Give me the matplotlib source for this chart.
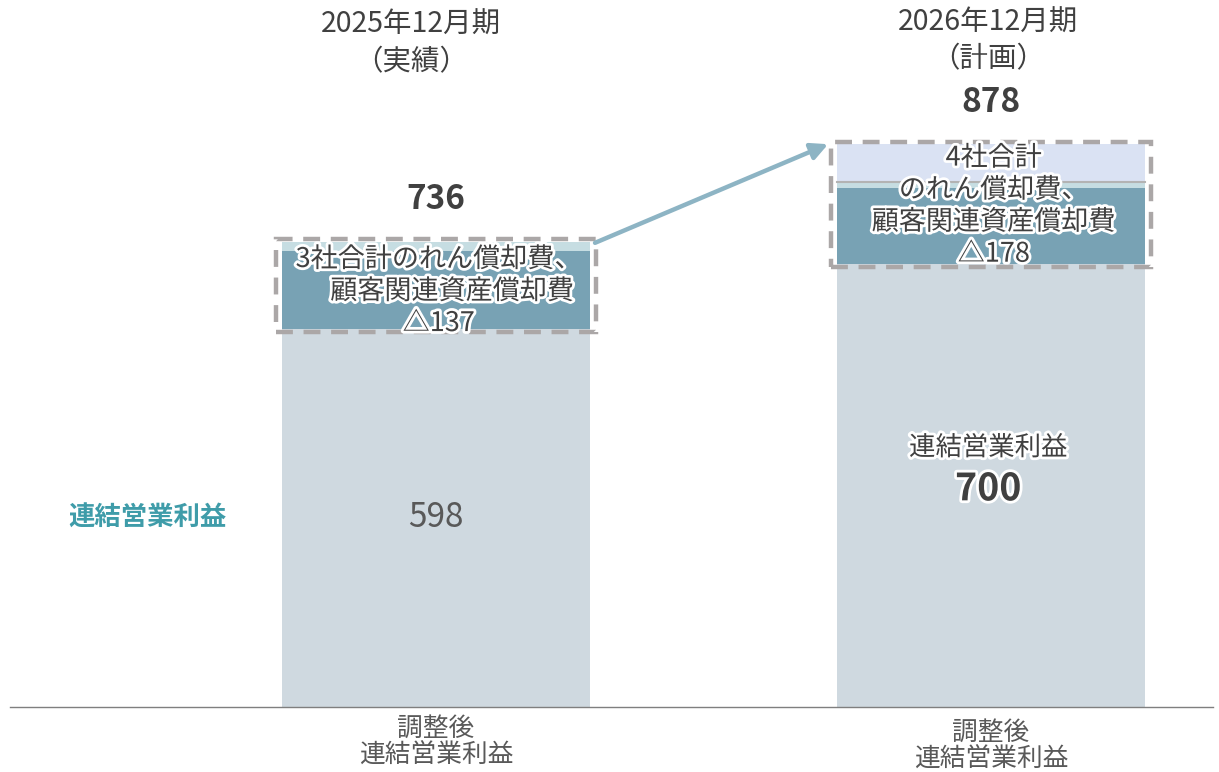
import matplotlib
matplotlib.use("Agg")
import matplotlib.pyplot as plt
import matplotlib.patheffects as pe
from matplotlib.patches import Rectangle

plt.rcParams['font.family'] = ['Noto Sans CJK JP', 'DejaVu Sans']

# ---- data ----
categories = ["調整後\n連結営業利益", "調整後\n連結営業利益"]
headers = ["2025年12月期\n（実績）", "2026年12月期\n（計画）"]
base_values = [598, 700]                 # 連結営業利益
amort_dark = [123, 121]                  # 償却費 (dark segment)
amort_light = [15, 9]                    # 償却費 (light strip)
amort_top = [0, 60]                      # 償却費 (top lavender segment, plan)
totals = [736, 878]
amort_totals = [137, 178]
box_labels = ["3社合計のれん償却費、\n　顧客関連資産償却費\n△{}",
              "4社合計\nのれん償却費、\n顧客関連資産償却費\n△{}"]
left_label = "連結営業利益"

# ---- styling ----
c_base = "#cfd9e0"
c_dark = "#78a2b4"
c_light = "#c6dde2"
c_top = "#dae2f3"
c_text = "#404040"
c_grey = "#595959"
c_teal = "#3f9ca9"
c_dash = "#aba7a7"
c_arrow = "#8db4c4"

W, H = 1219, 772
fig = plt.figure(figsize=(W / 100, H / 100), dpi=100)
ax = fig.add_axes([10 / W, 65 / H, 1203 / W, 707 / H])
ax.set_xlim(-0.7676, 1.4)
ax.set_ylim(0, 1118)
for s in ["top", "right", "left"]:
    ax.spines[s].set_visible(False)
ax.spines["bottom"].set_color("#7f7f7f")
ax.spines["bottom"].set_linewidth(1.0)
ax.set_xticks([])
ax.set_yticks([])

x = [0, 1]
width = 0.555
glow = [pe.withStroke(linewidth=4, foreground="white")]

ax.bar(x, base_values, width, color=c_base, zorder=1)
b1 = [b for b in base_values]
ax.bar(x, amort_dark, width, bottom=b1, color=c_dark, zorder=1)
b2 = [b1[i] + amort_dark[i] for i in range(2)]
ax.bar(x, amort_light, width, bottom=b2, color=c_light, zorder=1)
b3 = [b2[i] + amort_light[i] for i in range(2)]
ax.bar(x, amort_top, width, bottom=b3, color=c_top, zorder=1,
       edgecolor="none")
# thin grey separator on planned bar
ax.plot([1 - width / 2, 1 + width / 2], [b3[1], b3[1]], color="#b3b3b3",
        lw=1.5, zorder=2)
tops = [b3[i] + amort_top[i] for i in range(2)]

# dashed boxes
padx = 0.011
box_coords = []
for i in range(2):
    y0 = base_values[i] - 5
    y1 = tops[i] + 4
    x0 = x[i] - width / 2 - padx
    x1 = x[i] + width / 2 + padx
    box_coords.append((x0, y0, x1, y1))
    ax.add_patch(Rectangle((x0, y0), x1 - x0, y1 - y0, fill=False,
                           edgecolor=c_dash, lw=3.2,
                           linestyle=(0, (3.8, 2.4)), zorder=4))

# arrow from box1 top-right to box2 top-left
ax.annotate("", xy=(box_coords[1][0] - 0.005, box_coords[1][3] - 4),
            xytext=(box_coords[0][2] - 0.002, box_coords[0][3] - 6),
            arrowprops=dict(arrowstyle="-|>,head_length=1.0,head_width=0.5",
                            color=c_arrow, lw=3.2, shrinkA=0, shrinkB=0),
            zorder=5)

# totals
for i in range(2):
    ax.text(x[i], tops[i] + 66, str(totals[i]),
            ha="center", va="center", fontsize=24, fontweight="bold",
            color=c_text, zorder=6)

# box labels
box_dy = [-10, -3]
for i in range(2):
    ymid = (base_values[i] + tops[i]) / 2
    ax.text(x[i] + 0.005, ymid + box_dy[i],
            box_labels[i].format(amort_totals[i]),
            ha="center", va="center", fontsize=19.5, color=c_text,
            linespacing=1.24, path_effects=glow, zorder=6)

# base labels
ax.text(x[0], base_values[0] / 2, str(base_values[0]), ha="center",
        va="center", fontsize=24, color=c_grey, zorder=6)
ax.text(x[1] - 0.005, base_values[1] / 2 + 60, left_label, ha="center",
        va="center", fontsize=19, color=c_text, path_effects=glow, zorder=6)
ax.text(x[1] - 0.005, base_values[1] / 2 - 5, str(base_values[1]), ha="center",
        va="center", fontsize=27, fontweight="bold", color=c_text,
        path_effects=glow, zorder=6)

# left label
ax.text(-0.52, base_values[0] / 2, left_label, ha="center", va="center",
        fontsize=19, fontweight="bold", color=c_teal)

# headers
header_dx = [-0.045, -0.005]
header_y = [1049, 1053]
for i in range(2):
    ax.text(x[i] + header_dx[i], header_y[i], headers[i], ha="center",
            va="center", fontsize=20.5, color=c_text, linespacing=1.3,
            clip_on=False)

# category labels
cat_y = [-56, -62]
for i in range(2):
    ax.text(x[i], cat_y[i], categories[i], ha="center", va="center",
            fontsize=18.5, color=c_grey, linespacing=1.08, clip_on=False)

fig.savefig("out.png", dpi=100)
